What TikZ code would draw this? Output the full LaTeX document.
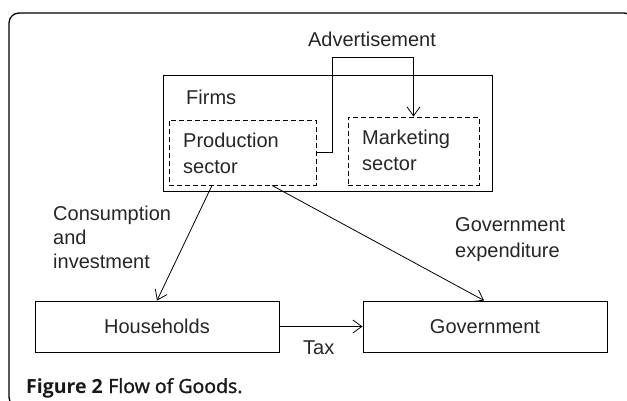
\documentclass[tikz,border=0pt]{standalone}
\usepackage{fontspec}
\setmainfont{Liberation Sans}
\newfontfamily\capfont{Open Sans}
\newfontfamily\capsemi[FakeBold=1.5]{Open Sans}
\usetikzlibrary{arrows.meta}
\begin{document}
\begin{tikzpicture}[x=1pt,y=-1pt,
  every node/.style={font=\fontsize{20}{24}\selectfont, text=black!85},
  solidbox/.style={draw, line width=1pt, inner sep=0pt, rectangle},
  dashbox/.style={draw, dashed, dash pattern=on 5pt off 3pt, line width=0.9pt, inner sep=0pt, rectangle},
  lbl/.style={inner sep=0pt, align=left},
  arr/.style={line width=0.8pt, -{Straight Barb[length=9pt,width=13pt,line width=0.8pt]}}
]
\useasboundingbox (0,0) rectangle (627,401);
\fill[white] (0,0) rectangle (627,401);
\draw[line width=1.3pt, rounded corners=10pt] (9,13) rectangle (634,407);

\node[solidbox, minimum width=329pt, minimum height=116pt] (firms) at (327.5,134) {};
\node[dashbox, minimum width=147pt, minimum height=65pt] (prod) at (242.5,152.5) {};
\node[dashbox, minimum width=131pt, minimum height=68pt] (mkt) at (413.5,151) {};
\node[solidbox, minimum width=244pt, minimum height=51pt] (hh) at (157,326.5) {Households};
\node[solidbox, minimum width=244pt, minimum height=51pt] (gov) at (485,326.5) {Government};

\node[lbl, anchor=west] (firmslbl) at (186,97) {Firms};
\node[lbl, anchor=west, font=\fontsize{20}{26}\selectfont] (prodlbl) at (183,153) {Production\\sector};
\node[lbl, anchor=west, font=\fontsize{20}{26}\selectfont] (mktlbl) at (362,150) {Marketing\\sector};
\node[lbl] (adv) at (372,39) {Advertisement};
\node[lbl, anchor=west] (cons) at (53,237) {Consumption\\and\\investment};
\node[lbl, anchor=west, font=\fontsize{20}{26}\selectfont] (gexp) at (455,240) {Government\\expenditure};
\node[lbl, anchor=west] (tax) at (303,348) {Tax};

\coordinate (advtop) at (332,57);
\draw[arr] (prod.east) -| (advtop) -| (mkt.north);
\draw[arr] ([xshift=-30.5pt]prod.south) -- (hh.north);
\draw[arr] ([xshift=29.5pt]prod.south) -- ([xshift=-1pt]gov.north);
\draw[arr] (hh.east) -- (gov.west);

\node[lbl, anchor=base west, font=\fontsize{19.5}{22}\selectfont, text=black!90] (cap) at (26,393) {{\capfont\bfseries Figure 2} {\capsemi Flow of Goods.}};
\end{tikzpicture}
\end{document}
